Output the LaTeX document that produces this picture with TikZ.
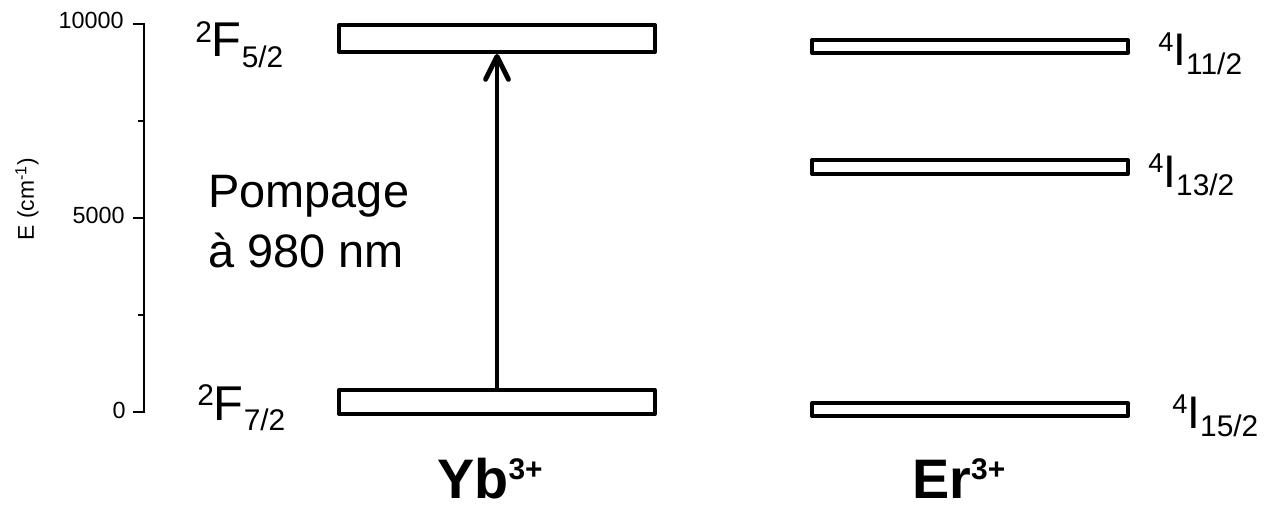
\documentclass[tikz,border=0pt]{standalone}
\usepackage{fontspec}
\setmainfont{Liberation Sans}
\usetikzlibrary{arrows.meta}
\newcommand{\fsz}[1]{\fontsize{#1}{#1}\selectfont}
\begin{document}
\begin{tikzpicture}[x=0.02cm,y=-0.02cm,
  lvlbox/.style={draw, line width=2.3pt, minimum width=6.32cm, inner sep=0pt, line join=round, fill=white},
  lbl/.style={inner sep=0pt, anchor=base west},
  ticklab/.style={inner sep=0pt, anchor=base east, font=\fsz{13.3}},
  axisline/.style={line width=0.85pt},
  pump/.style={line width=2.8pt, -{Straight Barb[length=13pt, width=13pt, round]}}]
\useasboundingbox (0,0) rectangle (1270,510);

% axis
\draw[axisline] (133,24) -- (144,24) -- (144,412) -- (133,412);
\draw[axisline] (133,218) -- (144,218);
\draw[axisline] (138,121) -- (144,121);
\draw[axisline] (138,315) -- (144,315);
\node[ticklab] (t10k) at (124,29) {10000};
\node[ticklab] (t5k) at (125,223) {5000};
\node[ticklab] (t0) at (126,418) {0};
\node[rotate=90, inner sep=0pt] (elab) at (27,199) {\fsz{13}E (cm\textsuperscript{-1})};

% Yb levels
\node[lvlbox, minimum height=0.54cm] (ybup) at (497,38.5) {};
\node[lvlbox, minimum height=0.48cm] (ybdown) at (497,402) {};
\draw[pump] (ybdown.north) -- (ybup.south);

% Er levels
\node[lvlbox, minimum height=0.26cm] (er1) at (970,46.5) {};
\node[lvlbox, minimum height=0.28cm] (er2) at (970,167) {};
\node[lvlbox, minimum height=0.26cm] (er3) at (970,409.5) {};

% level labels
\node[lbl] (f52) at (195,57) {\fsz{17}\raisebox{8.5pt}{2}\fsz{27.8}F\fsz{17}\raisebox{-6.2pt}{5/2}};
\node[lbl] (f72) at (197,420) {\fsz{17}\raisebox{8.5pt}{2}\fsz{27.8}F\fsz{17}\raisebox{-6.2pt}{7/2}};
\node[lbl] (i112) at (1158,66) {\fsz{15.5}\raisebox{8pt}{4}\fsz{26}I\fsz{17}\raisebox{-5pt}{11/2}};
\node[lbl] (i132) at (1148,187) {\fsz{15.5}\raisebox{8pt}{4}\fsz{26}I\fsz{17}\raisebox{-5pt}{13/2}};
\node[lbl] (i152) at (1172,428) {\fsz{15.5}\raisebox{8pt}{4}\fsz{26}I\fsz{17}\raisebox{-5pt}{15/2}};

% pump text
\node[lbl] (p1) at (208,207) {\fsz{26.7}Pompage};
\node[lbl] (p2) at (208,267) {\fsz{26.7}à 980 nm};

% ion labels
\node[lbl] (yb) at (437,498) {\bfseries\fsz{31.7}Yb\fsz{17}\raisebox{10.5pt}{3+}};
\node[lbl] (er) at (912,498) {\bfseries\fsz{31.7}Er\fsz{17}\raisebox{10.5pt}{3+}};
\end{tikzpicture}
\end{document}
